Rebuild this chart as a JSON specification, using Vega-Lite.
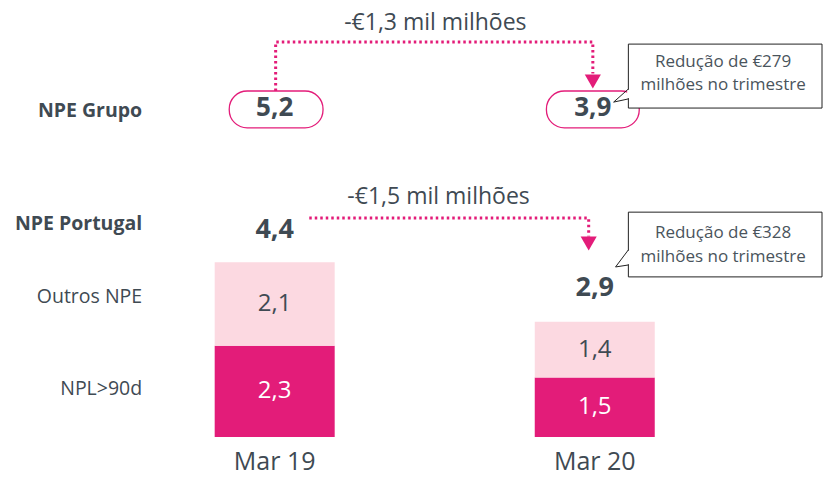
{
  "$schema": "https://vega.github.io/schema/vega-lite/v6.json",
  "width": 823,
  "height": 478,
  "autosize": {"type": "none"},
  "padding": 0,
  "background": "white",
  "config": {"view": {"stroke": null}, "font": "Open Sans", "text": {"font": "Open Sans"}},
  "datasets": {
    "bars": [
      {"period": "Mar 19", "pos": 1, "type": "NPL>90d", "value": 2.3, "ord": 1, "label": "2,3"},
      {"period": "Mar 19", "pos": 1, "type": "Outros NPE", "value": 2.1, "ord": 2, "label": "2,1"},
      {"period": "Mar 20", "pos": 2, "type": "NPL>90d", "value": 1.5, "ord": 1, "label": "1,5"},
      {"period": "Mar 20", "pos": 2, "type": "Outros NPE", "value": 1.4, "ord": 2, "label": "1,4"}
    ],
    "periods": [
      {"period": "Mar 19", "pos": 1},
      {"period": "Mar 20", "pos": 2}
    ],
    "rowlabels": [
      {"text": "NPE Grupo", "y": 8.2, "bold": true},
      {"text": "NPE Portugal", "y": 5.36, "bold": true},
      {"text": "Outros NPE", "y": 3.52, "bold": false},
      {"text": "NPL>90d", "y": 1.21, "bold": false}
    ],
    "totals": [
      {"text": "5,2", "x": 1.0, "y": 8.27, "big": 26},
      {"text": "3,9", "x": 1.994, "y": 8.27, "big": 26},
      {"text": "4,4", "x": 1.0, "y": 5.22, "big": 27},
      {"text": "2,9", "x": 2.0, "y": 3.74, "big": 27}
    ],
    "pills": [
      {"x": 0.858, "x2": 1.151, "y": 8.71, "y2": 7.78},
      {"x": 1.849, "x2": 2.139, "y": 8.71, "y2": 7.78}
    ],
    "connectors": [
      {"s": "top", "o": 1, "x": 1.003, "y": 8.71},
      {"s": "top", "o": 2, "x": 1.003, "y": 9.94},
      {"s": "top", "o": 3, "x": 1.994, "y": 9.94},
      {"s": "top", "o": 4, "x": 1.994, "y": 9.15},
      {"s": "bot", "o": 1, "x": 1.108, "y": 5.51},
      {"s": "bot", "o": 2, "x": 1.981, "y": 5.51},
      {"s": "bot", "o": 3, "x": 1.981, "y": 5.05}
    ],
    "arrows": [
      {"x": 1.994, "y": 8.95},
      {"x": 1.981, "y": 4.87}
    ],
    "diffs": [
      {"text": "-€1,3 mil milhões", "x": 1.502, "y": 10.42},
      {"text": "-€1,5 mil milhões", "x": 1.512, "y": 6.04}
    ],
    "boxes": [
      {"x": 2.105, "x2": 2.71, "y": 9.89, "y2": 8.28},
      {"x": 2.105, "x2": 2.71, "y": 5.66, "y2": 4.03}
    ],
    "gaps": [
      {"x": 2.105, "y": 8.74, "y2": 8.53},
      {"x": 2.105, "y": 4.69, "y2": 4.35}
    ],
    "pointers": [
      {"c": "a", "o": 1, "x": 2.105, "y": 8.76},
      {"c": "a", "o": 2, "x": 2.059, "y": 8.43},
      {"c": "a", "o": 3, "x": 2.105, "y": 8.51},
      {"c": "b", "o": 1, "x": 2.105, "y": 4.71},
      {"c": "b", "o": 2, "x": 2.065, "y": 4.28},
      {"c": "b", "o": 3, "x": 2.105, "y": 4.33}
    ],
    "callouttext": [
      {"text": "Redução de €279", "y": 9.43},
      {"text": "milhões no trimestre", "y": 8.86},
      {"text": "Redução de €328", "y": 5.13},
      {"text": "milhões no trimestre", "y": 4.53}
    ]
  },
  "layer": [
    {
      "data": {"name": "bars"},
      "mark": {"type": "bar", "width": 120},
      "encoding": {
        "x": {
          "field": "pos", "type": "quantitative",
          "scale": {"domain": [0.1574, 2.6975], "nice": false, "zero": false},
          "axis": null
        },
        "y": {
          "field": "value", "type": "quantitative", "stack": "zero",
          "scale": {"domain": [-1.032, 11], "nice": false, "zero": false}, "axis": null
        },
        "color": {
          "field": "type", "type": "nominal",
          "scale": {"domain": ["NPL>90d", "Outros NPE"], "range": ["#e31c79", "#fcd9e1"]},
          "legend": null
        },
        "order": {"field": "ord", "type": "quantitative"}
      }
    },
    {
      "data": {"name": "bars"},
      "transform": [
        {"stack": "value", "groupby": ["pos"], "sort": [{"field": "ord"}], "as": ["v0", "v1"]},
        {"calculate": "(datum.v0 + datum.v1) / 2", "as": "mid"}
      ],
      "mark": {"type": "text", "fontSize": 24, "baseline": "middle", "align": "center"},
      "encoding": {
        "x": {"field": "pos", "type": "quantitative"},
        "y": {"field": "mid", "type": "quantitative"},
        "text": {"field": "label"},
        "color": {"condition": {"test": "datum.type === 'NPL>90d'", "value": "white"}, "value": "#3f4a53"}
      }
    },
    {
      "mark": {"type": "rule", "color": "#8c959c", "strokeWidth": 2},
      "encoding": {
        "x": {"datum": 0.497, "type": "quantitative"},
        "x2": {"datum": 2.509},
        "y": {"datum": 0, "type": "quantitative"}
      }
    },
    {
      "data": {"name": "periods"},
      "mark": {"type": "text", "align": "center", "baseline": "middle", "fontSize": 25, "color": "#3f4a53"},
      "encoding": {
        "x": {"field": "pos", "type": "quantitative"},
        "y": {"datum": -0.63, "type": "quantitative"},
        "text": {"field": "period"}
      }
    },
    {
      "data": {"name": "rowlabels"},
      "transform": [{"filter": "datum.bold"}],
      "mark": {"type": "text", "align": "right", "baseline": "middle", "fontSize": 19.5, "fontWeight": "bold", "color": "#3f4a53"},
      "encoding": {
        "x": {"datum": 0.586, "type": "quantitative"},
        "y": {"field": "y", "type": "quantitative"},
        "text": {"field": "text"}
      }
    },
    {
      "data": {"name": "rowlabels"},
      "transform": [{"filter": "!datum.bold"}],
      "mark": {"type": "text", "align": "right", "baseline": "middle", "fontSize": 19.5, "color": "#3f4a53"},
      "encoding": {
        "x": {"datum": 0.586, "type": "quantitative"},
        "y": {"field": "y", "type": "quantitative"},
        "text": {"field": "text"}
      }
    },
    {
      "data": {"name": "pills"},
      "mark": {"type": "rect", "fill": "white", "stroke": "#e31c79", "strokeWidth": 1.3, "cornerRadius": 18},
      "encoding": {
        "x": {"field": "x", "type": "quantitative"},
        "x2": {"field": "x2"},
        "y": {"field": "y", "type": "quantitative"},
        "y2": {"field": "y2"}
      }
    },
    {
      "data": {"name": "totals"},
      "mark": {"type": "text", "align": "center", "baseline": "middle", "fontWeight": "bold", "color": "#3f4a53"},
      "encoding": {
        "x": {"field": "x", "type": "quantitative"},
        "y": {"field": "y", "type": "quantitative"},
        "text": {"field": "text"},
        "size": {"field": "big", "type": "quantitative", "scale": null}
      }
    },
    {
      "data": {"name": "connectors"},
      "mark": {"type": "line", "color": "#e31c79", "strokeWidth": 3, "strokeDash": [2.5, 3], "strokeCap": "butt"},
      "encoding": {
        "x": {"field": "x", "type": "quantitative"},
        "y": {"field": "y", "type": "quantitative"},
        "detail": {"field": "s"},
        "order": {"field": "o", "type": "quantitative"}
      }
    },
    {
      "data": {"name": "arrows"},
      "mark": {"type": "point", "shape": "triangle-down", "filled": true, "color": "#e31c79", "opacity": 1, "size": 260},
      "encoding": {
        "x": {"field": "x", "type": "quantitative"},
        "y": {"field": "y", "type": "quantitative"}
      }
    },
    {
      "data": {"name": "diffs"},
      "mark": {"type": "text", "align": "center", "baseline": "middle", "fontSize": 23, "color": "#3f4a53"},
      "encoding": {
        "x": {"field": "x", "type": "quantitative"},
        "y": {"field": "y", "type": "quantitative"},
        "text": {"field": "text"}
      }
    },
    {
      "data": {"name": "boxes"},
      "mark": {"type": "rect", "fill": "white", "stroke": "#222222", "strokeWidth": 1},
      "encoding": {
        "x": {"field": "x", "type": "quantitative"},
        "x2": {"field": "x2"},
        "y": {"field": "y", "type": "quantitative"},
        "y2": {"field": "y2"}
      }
    },
    {
      "data": {"name": "gaps"},
      "mark": {"type": "rule", "color": "white", "strokeWidth": 2.5},
      "encoding": {
        "x": {"field": "x", "type": "quantitative"},
        "y": {"field": "y", "type": "quantitative"},
        "y2": {"field": "y2"}
      }
    },
    {
      "data": {"name": "pointers"},
      "mark": {"type": "line", "color": "#222222", "strokeWidth": 1},
      "encoding": {
        "x": {"field": "x", "type": "quantitative"},
        "y": {"field": "y", "type": "quantitative"},
        "detail": {"field": "c"},
        "order": {"field": "o", "type": "quantitative"}
      }
    },
    {
      "data": {"name": "callouttext"},
      "mark": {"type": "text", "align": "center", "baseline": "middle", "fontSize": 17, "color": "#4a545c"},
      "encoding": {
        "x": {"datum": 2.401, "type": "quantitative"},
        "y": {"field": "y", "type": "quantitative"},
        "text": {"field": "text"}
      }
    }
  ]
}
